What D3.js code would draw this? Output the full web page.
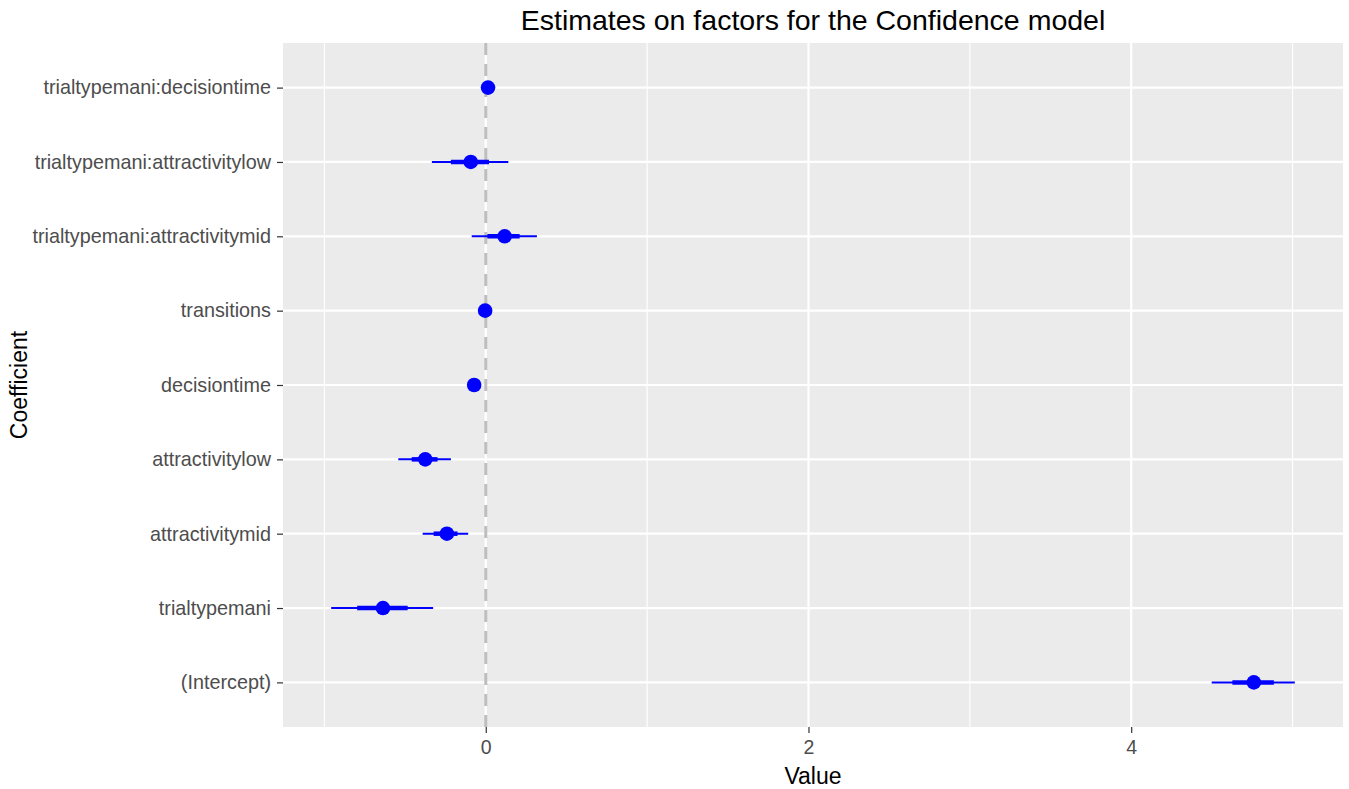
<!DOCTYPE html>
<html>
<head>
<meta charset="utf-8">
<script src="https://cdn.jsdelivr.net/npm/d3@7"></script>
<style>
    body { margin: 0; background: #ffffff; }
    #coef-chart { width: 1349px; height: 789px; }
</style>
</head>
<body>
<div id="coef-chart"></div>
<script>

// coefficients, top row first
let coefNames = [
    "trialtypemani:decisiontime",
    "trialtypemani:attractivitylow",
    "trialtypemani:attractivitymid",
    "transitions",
    "decisiontime",
    "attractivitylow",
    "attractivitymid",
    "trialtypemani",
    "(Intercept)"
];
let estimates = [0.014, -0.093, 0.117, -0.004, -0.072, -0.375, -0.241, -0.637, 4.76];
let outerLow  = [0.004, -0.334, -0.087, -0.018, -0.088, -0.542, -0.391, -0.958, 4.499];
let outerHigh = [0.024, 0.140, 0.317, 0.010, -0.056, -0.216, -0.109, -0.326, 5.014];
let innerLow  = [0.009, -0.216, 0.010, -0.011, -0.080, -0.459, -0.323, -0.797, 4.627];
let innerHigh = [0.019, 0.020, 0.210, 0.003, -0.064, -0.299, -0.175, -0.484, 4.884];

let majorTicks = [0, 2, 4];
let minorTicks = [-1, 1, 3, 5];

let chartTitle = "Estimates on factors for the Confidence model";
let xTitle = "Value";
let yTitle = "Coefficient";

class CoefVis {

    constructor(parentElement) {
        this.parentElement = parentElement;
        this.displayData = coefNames.map((name, i) => ({
            name: name,
            est: estimates[i],
            lo: outerLow[i],
            hi: outerHigh[i],
            ilo: innerLow[i],
            ihi: innerHigh[i]
        }));

        this.initVis();
    }

    initVis() {
        let vis = this;

        vis.margin = {top: 43, right: 6, bottom: 62, left: 283};
        vis.width = 1349 - vis.margin.left - vis.margin.right;
        vis.height = 789 - vis.margin.top - vis.margin.bottom;

        vis.svg = d3.select("#" + vis.parentElement).append("svg")
            .attr("width", 1349)
            .attr("height", 789)
            .style("font-family", "'Liberation Sans', Arial, sans-serif");

        vis.g = vis.svg.append("g")
            .attr("transform", `translate(${vis.margin.left}, ${vis.margin.top})`);

        // ggplot style 5% expansion on the data range
        let xmin = d3.min(vis.displayData, d => d.lo);
        let xmax = d3.max(vis.displayData, d => d.hi);
        let pad = (xmax - xmin) * 0.05;

        vis.x = d3.scaleLinear()
            .domain([xmin - pad, xmax + pad])
            .range([0, vis.width]);

        vis.y = d3.scalePoint()
            .domain(coefNames)
            .range([0, vis.height])
            .padding(0.6);

        vis.wrangleData();
    }

    wrangleData() {
        let vis = this;

        vis.updateVis();
    }

    updateVis() {
        let vis = this;

        // panel background
        vis.g.append("rect")
            .attr("width", vis.width)
            .attr("height", vis.height)
            .attr("fill", "#EBEBEB");

        // grid lines
        vis.g.selectAll(".minor-grid")
            .data(minorTicks)
            .enter().append("line")
            .attr("x1", d => vis.x(d))
            .attr("x2", d => vis.x(d))
            .attr("y1", 0)
            .attr("y2", vis.height)
            .attr("stroke", "#ffffff")
            .attr("stroke-width", 1.1);

        vis.g.selectAll(".major-grid")
            .data(majorTicks)
            .enter().append("line")
            .attr("x1", d => vis.x(d))
            .attr("x2", d => vis.x(d))
            .attr("y1", 0)
            .attr("y2", vis.height)
            .attr("stroke", "#ffffff")
            .attr("stroke-width", 2.2);

        vis.g.selectAll(".y-grid")
            .data(coefNames)
            .enter().append("line")
            .attr("x1", 0)
            .attr("x2", vis.width)
            .attr("y1", d => vis.y(d))
            .attr("y2", d => vis.y(d))
            .attr("stroke", "#ffffff")
            .attr("stroke-width", 2.2);

        // zero reference line
        vis.g.append("line")
            .attr("x1", vis.x(0))
            .attr("x2", vis.x(0))
            .attr("y1", 0)
            .attr("y2", vis.height)
            .attr("stroke", "#BEBEBE")
            .attr("stroke-width", 3)
            .attr("stroke-dasharray", "12,9");

        // outer intervals
        vis.g.selectAll(".outer")
            .data(vis.displayData)
            .enter().append("line")
            .attr("x1", d => vis.x(d.lo))
            .attr("x2", d => vis.x(d.hi))
            .attr("y1", d => vis.y(d.name))
            .attr("y2", d => vis.y(d.name))
            .attr("stroke", "#0000FF")
            .attr("stroke-width", 2);

        // inner intervals
        vis.g.selectAll(".inner")
            .data(vis.displayData)
            .enter().append("line")
            .attr("x1", d => vis.x(d.ilo))
            .attr("x2", d => vis.x(d.ihi))
            .attr("y1", d => vis.y(d.name))
            .attr("y2", d => vis.y(d.name))
            .attr("stroke", "#0000FF")
            .attr("stroke-width", 4.5);

        // point estimates
        vis.g.selectAll(".est")
            .data(vis.displayData)
            .enter().append("circle")
            .attr("cx", d => vis.x(d.est))
            .attr("cy", d => vis.y(d.name))
            .attr("r", 7.3)
            .attr("fill", "#0000FF");

        // x axis
        let xAxis = d3.axisBottom(vis.x)
            .tickValues(majorTicks)
            .tickFormat(d3.format("d"))
            .tickSize(6)
            .tickPadding(3);

        let xg = vis.g.append("g")
            .attr("transform", `translate(0, ${vis.height})`)
            .call(xAxis);
        xg.select(".domain").remove();
        xg.selectAll("line").attr("stroke", "#333333").attr("stroke-width", 1.2);
        xg.selectAll("text")
            .attr("fill", "#4D4D4D")
            .style("font-size", "19.5px")
            .attr("dy", "0.9em")
            .style("font-family", "'Liberation Sans', Arial, sans-serif");

        // y axis
        let yAxis = d3.axisLeft(vis.y)
            .tickSize(6)
            .tickPadding(6);

        let yg = vis.g.append("g").call(yAxis);
        yg.select(".domain").remove();
        yg.selectAll("line").attr("stroke", "#333333").attr("stroke-width", 1.2);
        yg.selectAll("text")
            .attr("fill", "#4D4D4D")
            .style("font-size", "19.8px")
            .style("font-family", "'Liberation Sans', Arial, sans-serif");

        // titles
        vis.svg.append("text")
            .attr("x", vis.margin.left + vis.width / 2)
            .attr("y", 30)
            .attr("text-anchor", "middle")
            .style("font-size", "28.5px")
            .attr("fill", "#000000")
            .text(chartTitle);

        vis.svg.append("text")
            .attr("x", vis.margin.left + vis.width / 2)
            .attr("y", 784)
            .attr("text-anchor", "middle")
            .style("font-size", "23px")
            .attr("fill", "#000000")
            .text(xTitle);

        vis.svg.append("text")
            .attr("transform", `translate(27, ${vis.margin.top + vis.height / 2}) rotate(-90)`)
            .attr("text-anchor", "middle")
            .style("font-size", "23px")
            .attr("fill", "#000000")
            .text(yTitle);
    }
}

new CoefVis("coef-chart");

</script>
</body>
</html>
